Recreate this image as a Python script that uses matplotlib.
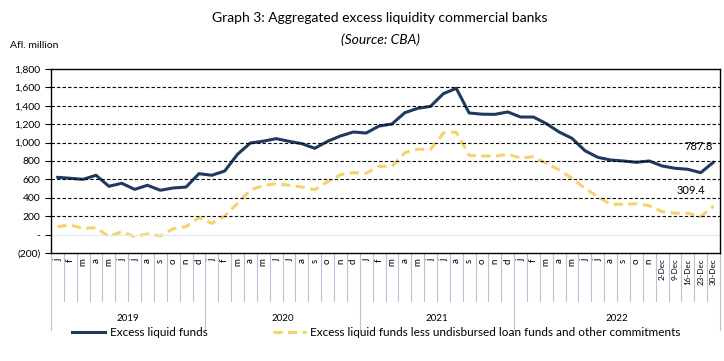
import matplotlib
matplotlib.use("Agg")
import matplotlib.pyplot as plt
from matplotlib import font_manager
from matplotlib.lines import Line2D
import matplotlib.transforms as mtransforms

# pick a narrow-ish font if available
names = {f.name for f in font_manager.fontManager.ttflist}
font = "Liberation Sans Narrow" if "Liberation Sans Narrow" in names else "Lato"
plt.rcParams['font.family'] = [font, 'DejaVu Sans']

months = ['j', 'f', 'm', 'a', 'm', 'j', 'j', 'a', 's', 'o', 'n', 'd']
categories = months * 3 + months[:11] + ['2-Dec', '9-Dec', '16-Dec', '23-Dec', '30-Dec']
years = ['2019', '2020', '2021', '2022']
year_bounds = [-0.5, 11.5, 23.5, 35.5, 51.5]

excess = [623, 612, 601, 645, 525, 558, 492, 536, 482, 507, 517, 662,
          645, 691, 873, 996, 1015, 1043, 1014, 988, 938, 1014, 1072, 1115,
          1104, 1180, 1202, 1325, 1372, 1394, 1532, 1590, 1322, 1309, 1307, 1333,
          1278, 1278, 1206, 1115, 1046, 912, 840, 811, 800, 786, 800,
          746, 721, 710, 673, 787.8]
excess_less = [86, 104, 68, 75, -23, 32, -23, 7, -15, 64, 86, 184,
               122, 202, 340, 485, 532, 553, 536, 517, 488, 575, 651, 673,
               666, 742, 742, 890, 927, 927, 1104, 1115, 862, 855, 851, 873,
               833, 847, 775, 702, 612, 503, 412, 329, 329, 336, 314,
               249, 232, 232, 195, 309.4]

navy = '#1f3a5f'
yellow = '#f8d16a'
sep = '#b8c4d6'

fig = plt.figure(figsize=(7.24, 3.61), dpi=100)
ax = fig.add_axes([51 / 724, 1 - 253 / 361, 669 / 724, 184 / 361])

x = list(range(len(categories)))
ax.plot(x, excess, color=navy, lw=2.2, solid_capstyle='round')
ax.plot(x, excess_less, color=yellow, lw=2.2, dashes=(3, 1.8))

ax.set_xlim(-0.5, len(categories) - 0.5)
ax.set_ylim(-200, 1800)
ax.set_yticks(range(-200, 1801, 200))
ylabels = []
for v in range(-200, 1801, 200):
    if v < 0:
        ylabels.append('({:,})'.format(-v))
    elif v == 0:
        ylabels.append('-')
    else:
        ylabels.append('{:,}'.format(v))
ax.set_yticklabels(ylabels, fontsize=7.5)
ax.tick_params(axis='y', length=4, width=0.8)
for v in range(200, 1601, 200):
    ax.axhline(v, color='black', lw=0.8, ls=(0, (3, 2)))
ax.axhline(0, color='#e3e7ee', lw=0.8)

ax.set_xticks(x)
ax.set_xticklabels(categories, rotation=90, fontsize=7)
for lbl in ax.get_xticklabels():
    if 'Dec' in lbl.get_text():
        lbl.set_fontsize(5.8)
ax.tick_params(axis='x', length=0, pad=4)
for s in ax.spines.values():
    s.set_linewidth(1.0)

# category separators below the axis
trans = mtransforms.blended_transform_factory(ax.transData, ax.transAxes)
for i in range(len(categories) + 1):
    xi = i - 0.5
    bottom = -0.42 if xi in year_bounds else -0.26
    ax.add_line(Line2D([xi, xi], [0, bottom], transform=trans, color=sep,
                       lw=0.8, clip_on=False))
for k, yr in enumerate(years):
    mid = (year_bounds[k] + year_bounds[k + 1]) / 2
    ax.text(mid, -0.355, yr, transform=trans, ha='center', va='center', fontsize=7)

ax.annotate('787.8', (51, excess[-1]), xytext=(-11, 11), textcoords='offset points',
            fontsize=8, ha='center', va='center')
ax.annotate('309.4', (51, excess_less[-1]), xytext=(-16, 11), textcoords='offset points',
            fontsize=8, ha='center', va='center')

fig.text(0.525, 0.95, 'Graph 3: Aggregated excess liquidity commercial banks',
         ha='center', va='center', fontsize=10)
fig.text(0.525, 0.89, '(Source: CBA)', ha='center', va='center', fontsize=10,
         style='italic')
fig.text(0.014, 0.875, 'Afl. million', ha='left', va='center', fontsize=7.5)

handles = [Line2D([], [], color=navy, lw=2.2),
           Line2D([], [], color=yellow, lw=2.2, dashes=(3, 1.8))]
fig.legend(handles, ['Excess liquid funds',
                     'Excess liquid funds less undisbursed loan funds and other commitments'],
           loc='center left', bbox_to_anchor=(0.085, 0.078), ncol=2, frameon=False,
           fontsize=8.5, handlelength=2.8, handletextpad=0.4, columnspacing=5.5)

fig.savefig('out.png', dpi=100)
